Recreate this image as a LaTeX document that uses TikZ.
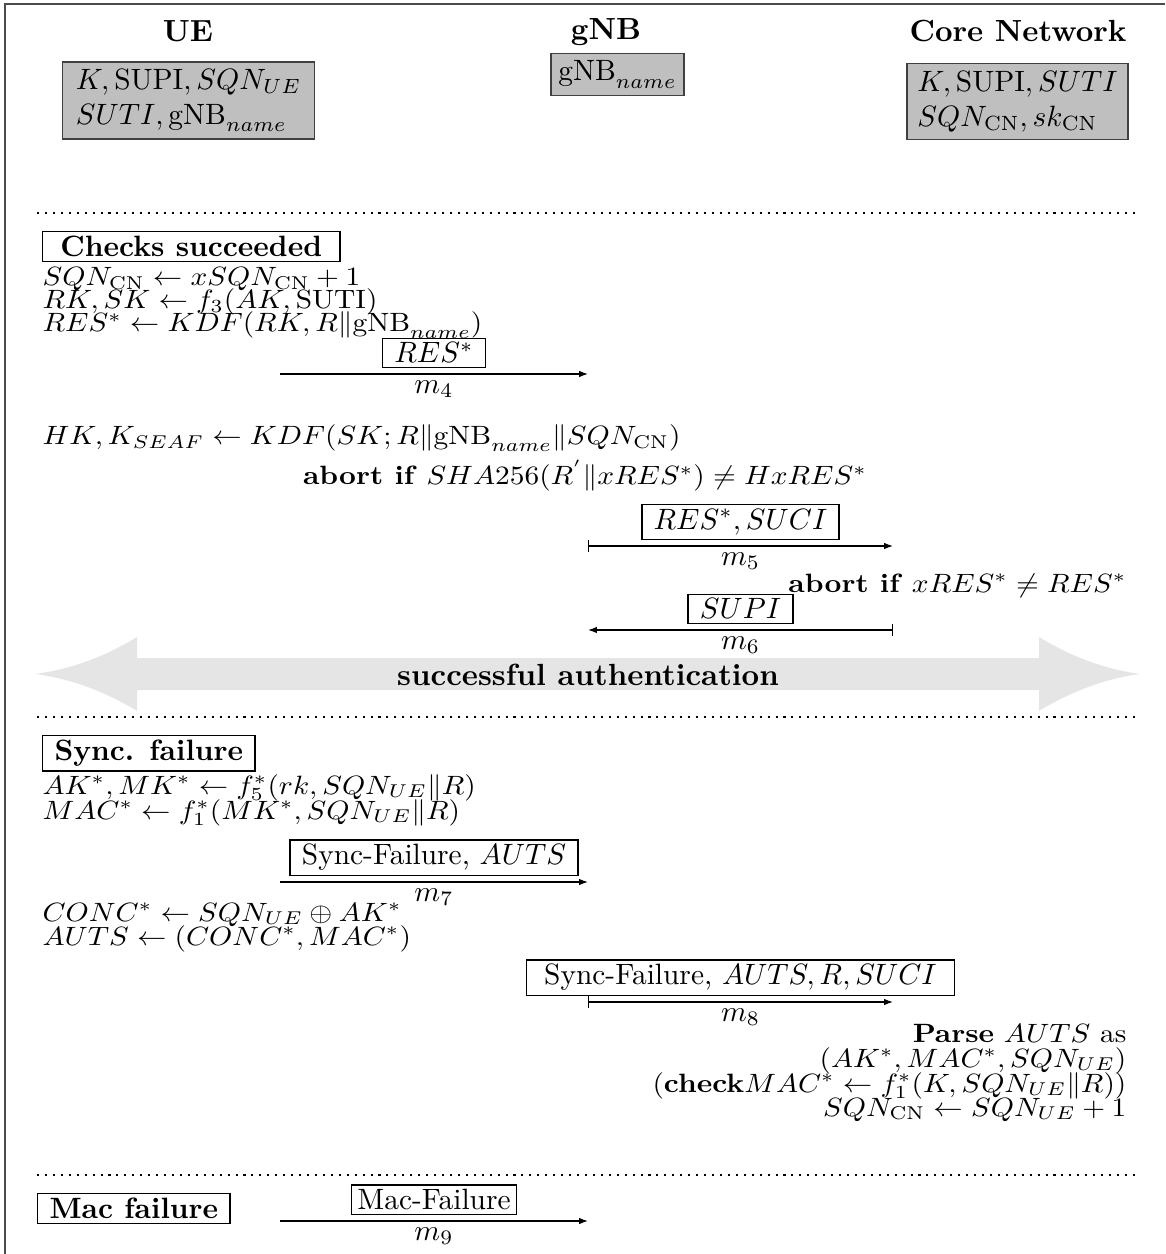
\documentclass[tikz,border=0pt]{standalone}
\usepackage{amsmath,amssymb}
\usetikzlibrary{arrows.meta}
\newcommand{\CNs}{\mathrm{CN}}
\newcommand{\gnbn}{\mathrm{gNB}_{name}}
\begin{document}
\begin{tikzpicture}[x=0.34pt,y=-0.34pt,
  ln/.style={anchor=base west,inner sep=0pt,yscale=0.9},
  rn/.style={anchor=base east,inner sep=0pt,yscale=0.9},
  cn/.style={anchor=base,inner sep=0pt,yscale=0.9},
  hdr/.style={anchor=base,inner sep=0pt,font=\fontsize{10.4}{12.5}\selectfont\bfseries},
  gbox/.style={draw=black!75,fill=lightgray,align=left,inner xsep=3.5pt,inner ysep=2.5pt,line width=0.5pt},
  secbox/.style={draw,font=\bfseries,inner xsep=4pt,inner ysep=1.5pt,line width=0.5pt},
  msgbox/.style={draw,inner xsep=4pt,inner ysep=1.5pt,line width=0.5pt},
  msg/.style={line width=0.45pt,-{Latex[length=3pt,width=2.2pt]}},
  msgb/.style={line width=0.45pt,{Bar[width=4pt]}-{Latex[length=3pt,width=2.2pt]}},
  sepline/.style={dotted,line width=0.7pt},
  lbl/.style={below,inner sep=2pt}
]
\useasboundingbox (0,0) rectangle (1165,1254);
\draw[line width=0.6pt,black!70] (5,1254) -- (5,4) -- (1165,4);

% headers
\node[hdr] (ue) at (188,42) {UE};
\node[hdr] (gnb) at (606,40) {gNB};
\node[hdr] (cn) at (1018,42) {Core Network};
\node[gbox,inner xsep=4.5pt] (uek) at (188.5,100.5) {$K,\mathrm{SUPI},SQN_{UE}$\\$SUTI,\gnbn$};
\node[gbox,inner xsep=2.5pt] (gk) at (617.5,74.5) {$\gnbn$};
\node[gbox] (cnk) at (1017.5,101.5) {$K,\mathrm{SUPI},SUTI$\\$SQN_{\CNs},sk_{\CNs}$};

\draw[sepline] (37,213) -- (1140,213);

% checks succeeded
\node[secbox,anchor=north west,minimum width=101pt] (chk) at (42,231) {Checks succeeded};
\node[ln] (l1) at (42,286) {$SQN_{\CNs}\leftarrow xSQN_{\CNs}+1$};
\node[ln] (l2) at (42,309) {$RK,SK\leftarrow f_3(AK,\mathrm{SUTI})$};
\node[ln] (l3) at (42,332) {$RES^{*}\leftarrow KDF(RK,R\|\gnbn)$};
\coordinate (m4a) at (280,374); \coordinate (m4b) at (588,374);
\draw[msg] (m4a) -- node[msgbox,above=2pt] (b4) {$RES^{*}$} node[lbl] (t4) {$m_4$} (m4b);
\node[ln] (l4) at (42,445) {$HK,K_{SEAF}\leftarrow KDF(SK;R\|\gnbn\|SQN_{\CNs})$};
\node[cn] (ab1) at (585,485) {\textbf{abort if} $SHA256(R^{'}\|xRES^{*})\neq HxRES^{*}$};
\coordinate (m5a) at (588,546); \coordinate (m5b) at (893,546);
\draw[msgb] (m5a) -- node[msgbox,above=2pt] (b5) {$RES^{*},SUCI$} node[lbl] (t5) {$m_5$} (m5b);
\node[rn] (ab2) at (1127,592) {\textbf{abort if} $xRES^{*}\neq RES^{*}$};
\coordinate (m6a) at (893,630); \coordinate (m6b) at (588,630);
\draw[msgb] (m6a) -- node[msgbox,above=2pt] (b6) {$SUPI$} node[lbl] (t6) {$m_6$} (m6b);

% big arrow
\fill[gray!20] (137,658) -- (1039,658) -- (1039,637)
  .. controls (1075,659) and (1110,670) .. (1140,674)
  .. controls (1110,678) and (1075,689) .. (1039,711)
  -- (1039,690) -- (137,690) -- (137,711)
  .. controls (101,689) and (66,678) .. (35,674)
  .. controls (66,670) and (101,659) .. (137,637) -- cycle;
\node[hdr] (succ) at (588,685) {successful authentication};

\draw[sepline] (37,717) -- (1140,717);

% sync failure
\node[secbox,anchor=north west] (syn) at (42,735) {Sync. failure};
\node[ln] (l5) at (42,794) {$AK^{*},MK^{*}\leftarrow f_5^{*}(rk,SQN_{UE}\|R)$};
\node[ln] (l6) at (42,819) {$MAC^{*}\leftarrow f_1^{*}(MK^{*},SQN_{UE}\|R)$};
\coordinate (m7a) at (280,882); \coordinate (m7b) at (588,882);
\draw[msg] (m7a) -- node[msgbox,above=2pt] (b7) {Sync-Failure, $AUTS$} node[lbl] (t7) {$m_7$} (m7b);
\node[ln] (l7) at (42,921) {$CONC^{*}\leftarrow SQN_{UE}\oplus AK^{*}$};
\node[ln] (l8) at (42,945) {$AUTS\leftarrow(CONC^{*},MAC^{*})$};
\coordinate (m8a) at (588,1002); \coordinate (m8b) at (893,1002);
\draw[msgb] (m8a) -- node[msgbox,inner xsep=6pt,above=2pt] (b8) {Sync-Failure, $AUTS,R,SUCI$} node[lbl] (t8) {$m_8$} (m8b);
\node[rn] (r1) at (1127,1042) {\textbf{Parse} $AUTS$ as};
\node[rn] (r2) at (1127,1067) {$(AK^{*},MAC^{*},SQN_{UE})$};
\node[rn] (r3) at (1127,1092) {$(\textbf{check}MAC^{*}\leftarrow f_1^{*}(K,SQN_{UE}\|R))$};
\node[rn] (r4) at (1127,1116) {$SQN_{\CNs}\leftarrow SQN_{UE}+1$};

\draw[sepline] (37,1175) -- (1140,1175);

% mac failure
\node[secbox,anchor=north west] (mac) at (37,1193) {Mac failure};
\coordinate (m9a) at (280,1221); \coordinate (m9b) at (588,1221);
\draw[msg] (m9a) -- node[msgbox,inner xsep=2pt,above=2pt] (b9) {Mac-Failure} node[lbl] (t9) {$m_9$} (m9b);
\end{tikzpicture}
\end{document}
